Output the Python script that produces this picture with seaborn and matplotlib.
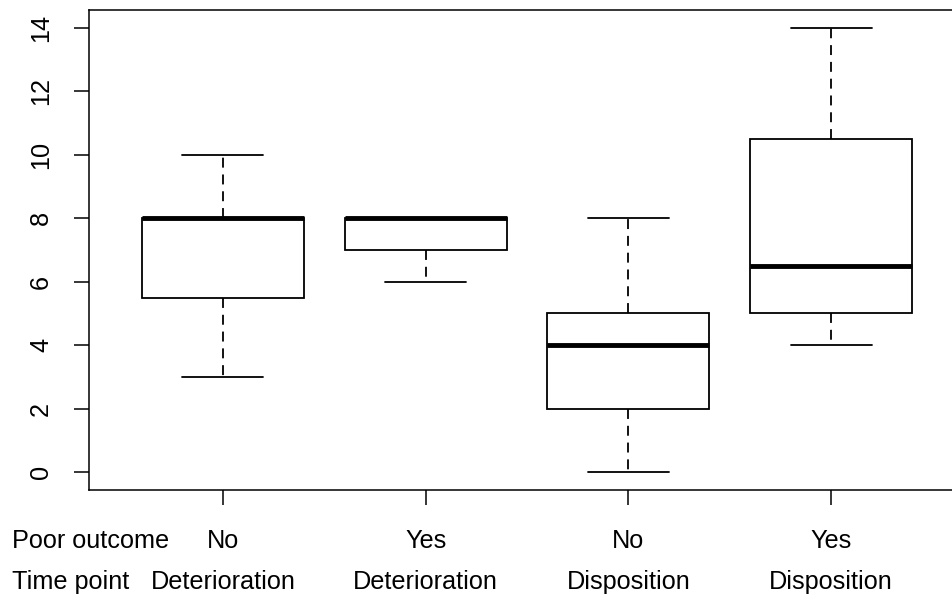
import numpy as np
import pandas as pd
import matplotlib
matplotlib.use("Agg")
import matplotlib.pyplot as plt
import seaborn as sns

# Raw scores per group (chosen to reproduce the five-number summaries in the figure)
group_keys = ["No-Det", "Yes-Det", "No-Dis", "Yes-Dis"]
scores_no_det = [3, 5, 6, 8, 8, 8, 10]
scores_yes_det = [6, 7, 8, 8, 8]
scores_no_dis = [0, 2, 4, 5, 8]
scores_yes_dis = [4, 5, 5, 5, 6, 7, 9, 11, 13, 14]

poor_outcome = ["No", "Yes", "No", "Yes"]
time_point = ["Deterioration", "Deterioration", "Disposition", "Disposition"]
y_ticks = [0, 2, 4, 6, 8, 10, 12, 14]

# Long-form table for seaborn
all_scores = [scores_no_det, scores_yes_det, scores_no_dis, scores_yes_dis]
df = pd.DataFrame({
    "group": np.repeat(group_keys, [len(s) for s in all_scores]),
    "score": np.concatenate(all_scores),
})

sns.set_style("ticks")
plt.rcParams["font.family"] = ["Liberation Sans", "DejaVu Sans"]
plt.rcParams["text.color"] = "black"
fs = 18.2

fig = plt.figure(figsize=(9.52, 5.98), dpi=100)
ax = fig.add_axes([89 / 952, 108 / 598, 876 / 952, 480 / 598])

sns.boxplot(data=df, x="group", y="score", order=group_keys, ax=ax,
            color="white", linecolor="black", linewidth=1.3, width=0.8,
            whiskerprops={"linestyle": (0, (5.5, 3.8))},
            medianprops={"linewidth": 3.5},
            showfliers=False)

ax.set_ylim(-0.56, 14.56)
ax.set_xlim(-0.66, 3.66)
ax.set_yticks(y_ticks)
ax.set_yticklabels([str(t) for t in y_ticks], rotation=90, va="center")
ax.set_xticks(range(len(group_keys)))
ax.set_xticklabels([])
ax.set_xlabel("")
ax.set_ylabel("")
ax.tick_params(axis="both", length=11, width=1.1, color="black",
               labelsize=fs, labelcolor="black")
ax.tick_params(axis="y", pad=15)

for side in ["left", "right", "top", "bottom"]:
    ax.spines[side].set_visible(True)
    ax.spines[side].set_color("black")
    ax.spines[side].set_linewidth(1.1)

# Two rows of category labels below the axis
trans = ax.get_xaxis_transform()
for i in range(len(group_keys)):
    ax.text(i, -0.121, poor_outcome[i], transform=trans, ha="center",
            va="baseline", fontsize=fs, color="black", clip_on=False)
    ax.text(i, -0.206, time_point[i], transform=trans, ha="center",
            va="baseline", fontsize=fs, color="black", clip_on=False)

fig.text(12 / 952, (598 - 548) / 598, "Poor outcome", ha="left",
         va="baseline", fontsize=fs, color="black")
fig.text(12 / 952, (598 - 589) / 598, "Time point", ha="left",
         va="baseline", fontsize=fs, color="black")

fig.savefig("out.png", dpi=100, facecolor="white")
